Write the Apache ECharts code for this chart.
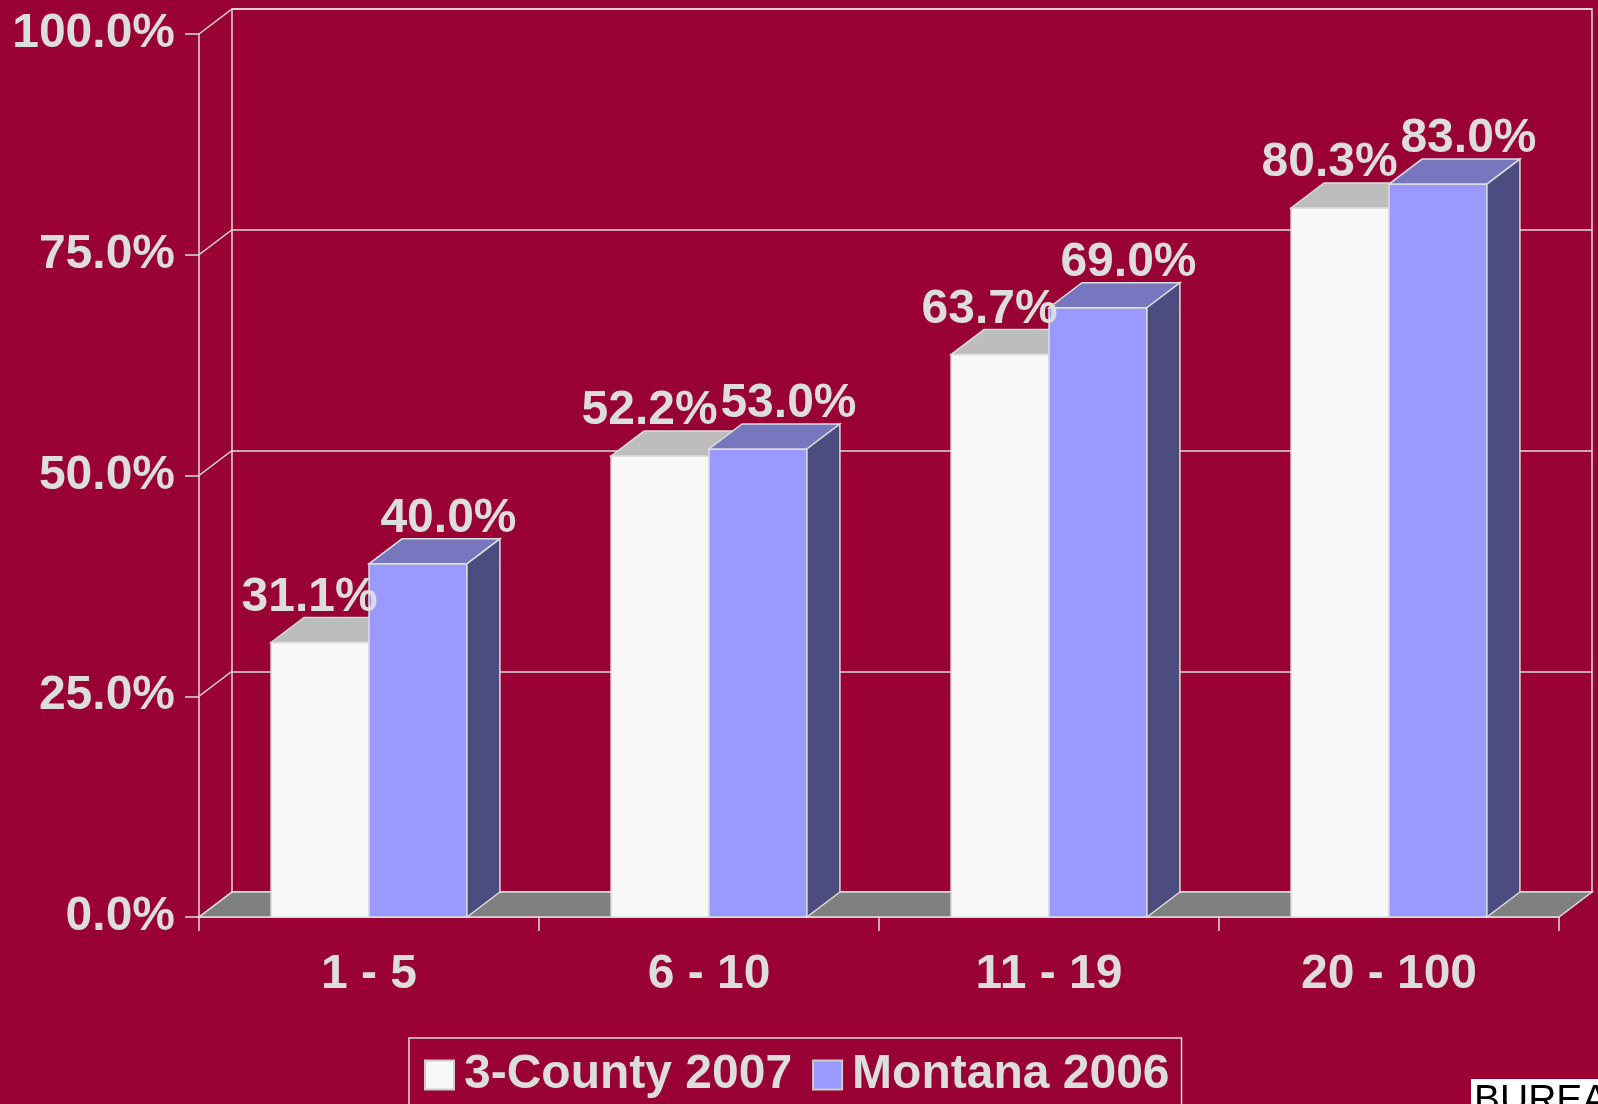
<!DOCTYPE html>
<html>
<head>
<meta charset="utf-8">
<script src="https://cdn.jsdelivr.net/npm/echarts@6/dist/echarts.min.js"></script>
<style>
  html, body { margin: 0; padding: 0; background: #990033; }
  #chart { width: 1598px; height: 1104px; }
</style>
</head>
<body>
<div id="chart"></div>
<script>
// firm size groups (employees)
var categories = ['1 - 5', '6 - 10', '11 - 19', '20 - 100'];
var county2007 = [31.1, 52.2, 63.7, 80.3];
var montana2006 = [40.0, 53.0, 69.0, 83.0];
var yTicks = [0, 25, 50, 75, 100];

var FONT = '"Liberation Sans", Arial, Helvetica, sans-serif';
var TEXT = '#dddddd';
var LINE = '#dddddd';
var DX = 33, DY = -25;        // depth of the 3d box
var BAR_FRAC = 0.288;         // one bar's width as part of a category band

var front = { left: 199, top: 34, right: 39, bottom: 187 };
var back = { left: front.left + DX, top: front.top + DY, right: front.right - DX, bottom: front.bottom - DY };

function pct(v) { return v.toFixed(1) + '%'; }

// draws one 3d bar: front face, top, right side and its label
function barItem(side, colors, labelShift) {
    return function (params, api) {
        var top = api.coord([api.value(0), api.value(1)]);
        var base = api.coord([api.value(0), 0]);
        var w = api.size([1, 0])[0] * BAR_FRAC;
        var x0 = side === 'left' ? top[0] - w : top[0];
        var x1 = x0 + w;
        var yt = top[1], yb = base[1];
        var edge = { stroke: LINE, lineWidth: 1.5 };
        return {
            type: 'group',
            children: [
                {
                    type: 'rect',
                    shape: { x: x0, y: yt, width: w, height: yb - yt },
                    style: Object.assign({ fill: colors.front }, edge)
                },
                {
                    type: 'polygon',
                    shape: { points: [[x0, yt], [x1, yt], [x1 + DX, yt + DY], [x0 + DX, yt + DY]] },
                    style: Object.assign({ fill: colors.top }, edge)
                },
                {
                    type: 'polygon',
                    shape: { points: [[x1, yt], [x1 + DX, yt + DY], [x1 + DX, yb + DY], [x1, yb]] },
                    style: Object.assign({ fill: colors.side }, edge)
                },
                {
                    type: 'text',
                    z2: 50,
                    style: {
                        text: pct(api.value(1)),
                        x: x0 + w / 2 + DX / 2 + labelShift,
                        y: yt + DY + 4,
                        align: 'center',
                        verticalAlign: 'bottom',
                        fill: TEXT,
                        font: 'bold 48px ' + FONT
                    }
                }
            ]
        };
    };
}

// floor and the gridlines on the left side wall
function wallItem(params, api) {
    var cs = params.coordSys;
    var p = api.coord([0, api.value(1)]);
    var x0 = cs.x;
    var children = [{
        type: 'line',
        shape: { x1: x0, y1: p[1], x2: x0 + DX, y2: p[1] + DY },
        style: { stroke: LINE, lineWidth: 1.5 }
    }];
    if (api.value(1) === 0) {
        var x1 = cs.x + cs.width;
        children.unshift({
            type: 'polygon',
            shape: { points: [[x0, p[1]], [x1, p[1]], [x1 + DX, p[1] + DY], [x0 + DX, p[1] + DY]] },
            style: { fill: '#808080', stroke: LINE, lineWidth: 1.5 }
        });
    }
    return { type: 'group', children: children };
}

var chart = echarts.init(document.getElementById('chart'));
var option = {
    animation: false,
    backgroundColor: '#990033',
    textStyle: { fontFamily: FONT },
    grid: [
        Object.assign({}, front),
        Object.assign({ show: true, borderColor: LINE, borderWidth: 1.5, backgroundColor: 'transparent' }, back)
    ],
    legend: {
        left: 409,
        top: 1038,
        padding: [13, 12, 13, 15],
        itemGap: 20,
        itemWidth: 29,
        itemHeight: 29,
        icon: 'rect',
        borderColor: LINE,
        borderWidth: 1.5,
        textStyle: { color: TEXT, fontSize: 48, fontWeight: 'bold', fontFamily: FONT, padding: [0, 0, 0, 5] },
        data: ['3-County 2007', 'Montana 2006']
    },
    xAxis: [
        {
            type: 'category',
            gridIndex: 0,
            data: categories,
            axisLine: { lineStyle: { color: LINE, width: 1.5 } },
            axisTick: { show: true, interval: 0, length: 14, lineStyle: { color: LINE, width: 1.5 } },
            axisLabel: { color: TEXT, fontSize: 48, fontWeight: 'bold', margin: 34, interval: 0 }
        },
        { type: 'category', gridIndex: 1, data: categories, show: false }
    ],
    yAxis: [
        {
            type: 'value',
            gridIndex: 0,
            min: 0,
            max: 100,
            interval: 25,
            axisLine: { show: true, lineStyle: { color: LINE, width: 1.5 } },
            axisTick: { show: true, length: 14, lineStyle: { color: LINE, width: 1.5 } },
            axisLabel: { color: TEXT, fontSize: 48, fontWeight: 'bold', margin: 24, formatter: pct },
            splitLine: { show: false }
        },
        {
            type: 'value',
            gridIndex: 1,
            min: 0,
            max: 100,
            interval: 25,
            axisLine: { show: false },
            axisTick: { show: false },
            axisLabel: { show: false },
            splitLine: { show: true, lineStyle: { color: LINE, width: 1.5 } }
        }
    ],
    series: [
        {
            name: 'walls',
            type: 'custom',
            z: 1,
            silent: true,
            renderItem: wallItem,
            data: yTicks.map(function (v) { return [0, v]; })
        },
        {
            name: '3-County 2007',
            type: 'custom',
            z: 2,
            itemStyle: { color: '#f8f8f8', borderColor: '#cccccc', borderWidth: 1 },
            renderItem: barItem('left', { front: '#f8f8f8', top: '#bdbdbd', side: '#8c8c8c' }, -27),
            encode: { x: 0, y: 1 },
            data: county2007.map(function (v, i) { return [i, v]; })
        },
        {
            name: 'Montana 2006',
            type: 'custom',
            z: 2,
            itemStyle: { color: '#9999ff', borderColor: '#cccccc', borderWidth: 1 },
            renderItem: barItem('right', { front: '#9999ff', top: '#7777c0', side: '#4c4c80' }, 14),
            encode: { x: 0, y: 1 },
            data: montana2006.map(function (v, i) { return [i, v]; })
        }
    ],
    graphic: [
        { type: 'rect', shape: { x: 1471, y: 1079, width: 127, height: 30 }, style: { fill: '#ffffff' } },
        { type: 'text', style: { text: 'BUREA', x: 1474, y: 1082, fill: '#000000', font: 'normal 39px ' + FONT } }
    ]
};
chart.setOption(option);
window.addEventListener('resize', chart.resize);
</script>
</body>
</html>
